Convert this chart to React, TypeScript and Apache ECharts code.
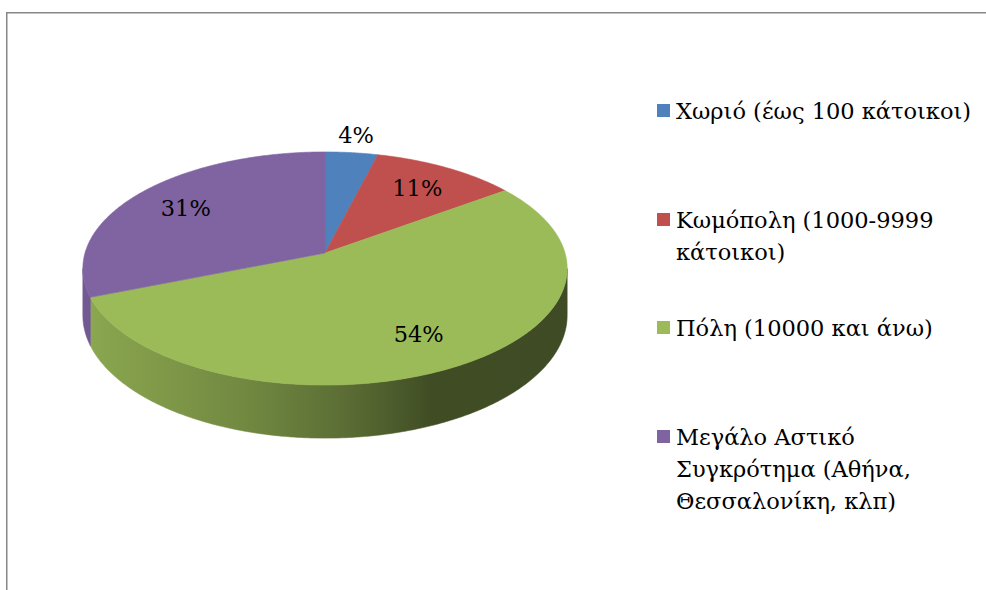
import React, { useEffect, useRef } from "react";
import * as echarts from "echarts";

const categories = [
  "Χωριό (έως 100 κάτοικοι)",
  "Κωμόπολη (1000-9999 κάτοικοι)",
  "Πόλη (10000 και άνω)",
  "Μεγάλο Αστικό Συγκρότημα (Αθήνα, Θεσσαλονίκη, κλπ)",
];
const legendLines = [
  ["Χωριό (έως 100 κάτοικοι)"],
  ["Κωμόπολη (1000-9999", "κάτοικοι)"],
  ["Πόλη (10000 και άνω)"],
  ["Μεγάλο Αστικό", "Συγκρότημα (Αθήνα,", "Θεσσαλονίκη, κλπ)"],
];
const values = [4, 11, 54, 31];
const colors = ["#4F81BD", "#C0504D", "#9BBB59", "#8064A2"];

const FONT = "DejaVu Serif";
const FS = 22.5;

// geometry of the perspective pie
const CX = 325;
const CY = 253;
const RX = 240;
const RY = 114.5;
const K = 0.133;
const DEPTH = 46;

function proj(theta: number, r: number, h: number): [number, number] {
  const u = r * Math.sin(theta);
  const v = -r * Math.cos(theta);
  const w = 1 / (1 - K * v);
  return [CX + RX * u * w, CY + RY * v * w + h * DEPTH * (1 / (1 - K * (-Math.cos(theta))))];
}

function shade(hex: string, f: number): string {
  const n = parseInt(hex.slice(1), 16);
  const r = Math.round(((n >> 16) & 255) * f);
  const g = Math.round(((n >> 8) & 255) * f);
  const b = Math.round((n & 255) * f);
  return `rgb(${r},${g},${b})`;
}

export default function App() {
  const ref = useRef<HTMLDivElement>(null);
  useEffect(() => {
    if (!ref.current) return;
    const chart = echarts.init(ref.current, undefined, { renderer: "svg" });
    const total = values.reduce((a, b) => a + b, 0);
    const starts: number[] = [];
    let acc = 0;
    values.forEach((v) => {
      starts.push(acc);
      acc += v;
    });
    const thL = Math.acos(-K);
    const thR = 2 * Math.PI - thL;
    const xMin = CX - RX * 1.01;
    const xMax = CX + RX * 1.01;

    const series = values.map((val, i) => ({
      type: "custom",
      name: categories[i],
      coordinateSystem: "none",
      data: [[val, starts[i], total]],
      renderItem: (params: any, api: any) => {
        const v = api.value(0);
        const s = api.value(1);
        const t = api.value(2);
        const a0 = (s / t) * 2 * Math.PI;
        const a1 = ((s + v) / t) * 2 * Math.PI;
        const color = colors[params.seriesIndex];
        const children: any[] = [];
        // outer wall (visible front part)
        const lo = Math.max(a0, thL);
        const hi = Math.min(a1, thR);
        if (hi > lo) {
          const pts: [number, number][] = [];
          const n = Math.max(2, Math.ceil((hi - lo) / (Math.PI / 360)));
          for (let j = 0; j <= n; j++) pts.push(proj(lo + ((hi - lo) * j) / n, 1, 0));
          for (let j = n; j >= 0; j--) pts.push(proj(lo + ((hi - lo) * j) / n, 1, 1));
          const stops = [
            [0, 0.9],
            [0.35, 0.72],
            [0.55, 0.58],
            [0.72, 0.41],
            [1, 0.4],
          ].map(([o, f]) => ({ offset: o, color: shade(color, f) }));
          const grad = {
            type: "linear",
            x: xMin,
            y: 0,
            x2: xMax,
            y2: 0,
            global: true,
            colorStops: stops,
          };
          children.push({
            type: "polygon",
            z2: 1,
            shape: { points: pts },
            style: { fill: grad, stroke: grad, lineWidth: 0.6 },
          });
        }
        // top face
        const top: [number, number][] = [proj(0, 0, 0)];
        const m = Math.max(2, Math.ceil((a1 - a0) / (Math.PI / 360)));
        for (let j = 0; j <= m; j++) top.push(proj(a0 + ((a1 - a0) * j) / m, 1, 0));
        children.push({
          type: "polygon",
          z2: 10,
          shape: { points: top },
          style: { fill: color, stroke: color, lineWidth: 0.6 },
        });
        // label
        const frac = v / t;
        const mid = (a0 + a1) / 2;
        const lp = proj(mid, frac < 0.06 ? 1.2 : 0.74, 0);
        children.push({
          type: "text",
          z2: 20,
          style: {
            text: `${Math.round(frac * 100)}%`,
            x: lp[0],
            y: lp[1],
            align: "center",
            verticalAlign: "middle",
            fontSize: FS,
            fontFamily: FONT,
            fill: "#000",
          },
        });
        return { type: "group", children };
      },
    }));

    const legendCenters = [110.5, 219.5, 327.5, 436.5];
    const graphic: any[] = [
      {
        type: "rect",
        shape: { x: 6.75, y: 12.75, width: 1000, height: 600 },
        style: { fill: "none", stroke: "#878787", lineWidth: 1.5 },
        silent: true,
      },
    ];
    legendLines.forEach((lines, i) => {
      const c = legendCenters[i];
      graphic.push({
        type: "rect",
        shape: { x: 657, y: c - 6.5, width: 13, height: 13 },
        style: { fill: colors[i] },
      });
      graphic.push({
        type: "text",
        style: {
          text: lines.join("\n"),
          x: 676,
          y: c - 16,
          verticalAlign: "top",
          align: "left",
          lineHeight: 32,
          fontSize: FS,
          fontFamily: FONT,
          fill: "#000",
        },
      });
    });

    chart.setOption({
      animation: false,
      backgroundColor: "#ffffff",
      series,
      graphic,
    });
    return () => chart.dispose();
  }, []);
  return (
    <div
      ref={ref}
      style={{ position: "fixed", left: 0, top: 0, width: 986, height: 590 }}
    />
  );
}
